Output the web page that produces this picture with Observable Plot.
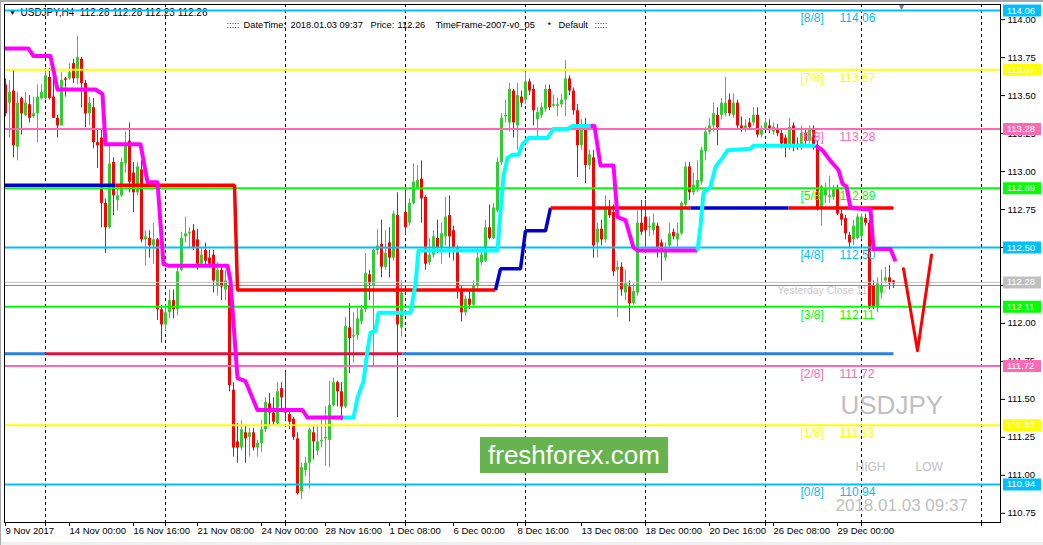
<!DOCTYPE html>
<html><head><meta charset="utf-8">
<script src="https://cdn.jsdelivr.net/npm/d3@7"></script>
<script src="https://cdn.jsdelivr.net/npm/@observablehq/plot@0.6"></script>
<style>
body{margin:0;background:#fff;}
#wrap{position:relative;width:1043px;height:545px;overflow:hidden;background:#fff;}
#wm{position:absolute;left:480px;top:437px;width:188px;height:36px;background:#66b34f;color:#fff;font:26px "Liberation Sans",Arial,sans-serif;display:flex;align-items:center;justify-content:center;}
#edge{position:absolute;left:0;top:0;width:1043px;height:545px;box-shadow:inset 1px 2px 0 #a8a8a8, inset 0 -3px 0 #f0f0f0;pointer-events:none;}
</style></head><body><div id="wrap"></div>
<script>
const symbolName = "USDJPY";
const timeframe = "H4";
const open = [
113.57,113.45,113.53,113.16,113.48,113.37,113.44,113.36,113.38,113.48,
113.48,113.62,113.49,113.35,113.30,113.61,113.61,113.71,113.61,113.74,
113.58,113.38,113.42,113.19,113.22,112.79,112.63,113.06,112.81,112.84,
113.05,113.20,112.99,112.86,113.01,112.55,112.56,112.51,112.55,112.09,
111.99,112.07,112.15,112.09,112.35,112.57,112.59,112.61,112.55,112.39,
112.48,112.43,112.45,112.25,112.35,112.22,112.25,111.56,111.22,111.18,
111.28,111.25,111.28,111.18,111.21,111.30,111.47,111.41,111.34,111.57,
111.44,111.40,111.37,111.24,110.89,111.03,111.08,111.28,111.16,111.22,
111.24,111.23,111.46,111.61,111.55,111.45,111.97,111.91,111.92,112.01,
112.09,112.32,112.25,112.48,112.52,112.37,112.53,112.43,112.71,111.97,
112.73,112.66,112.79,112.89,112.95,112.83,112.40,112.45,112.56,112.49,
112.57,112.71,112.61,112.50,112.22,112.07,112.16,112.12,112.25,112.40,
112.41,112.63,112.56,112.74,113.06,113.36,113.32,113.53,113.30,113.49,
113.47,113.59,113.54,113.34,113.37,113.41,113.54,113.43,113.43,113.44,
113.47,113.61,113.53,113.40,113.17,113.28,113.04,113.09,112.53,112.62,
112.55,112.76,112.73,112.35,112.37,112.20,112.24,112.13,112.20,112.66,
112.70,112.63,112.61,112.64,112.53,112.43,112.51,112.60,112.55,112.59,
112.78,113.03,112.86,112.88,112.93,113.13,113.26,113.30,113.37,113.37,
113.38,113.47,113.37,113.45,113.30,113.28,113.32,113.32,113.37,113.24,
113.28,113.30,113.26,113.28,113.25,113.22,113.17,113.30,113.18,113.16,
113.25,113.20,113.27,113.17,112.76,112.84,112.83,112.83,112.88,112.72,
112.69,112.58,112.55,112.56,112.57,112.69,112.66,112.25,112.11,112.20,
112.28,112.30,112.28];
const high = [
113.61,113.60,113.67,113.52,113.49,113.52,113.50,113.49,113.57,113.57,
113.68,113.68,113.62,113.37,113.65,113.62,113.71,113.74,113.89,113.75,
113.60,113.49,113.48,113.27,113.27,112.82,113.18,113.09,112.90,113.09,
113.26,113.32,113.06,113.06,113.07,112.61,112.61,112.66,112.56,112.12,
112.12,112.22,112.22,112.38,112.60,112.70,112.63,112.65,112.62,112.50,
112.53,112.48,112.48,112.40,112.38,112.35,112.30,111.61,111.34,111.36,
111.33,111.31,111.31,111.23,111.36,111.51,111.54,111.51,111.61,111.61,
111.68,111.43,111.38,111.28,111.08,111.12,111.31,111.32,111.32,111.38,
111.45,111.62,111.64,111.62,111.61,112.04,112.13,112.07,112.10,112.12,
112.46,112.35,112.50,112.62,112.68,112.61,112.63,112.74,112.86,112.28,
112.88,112.82,113.05,113.04,113.07,112.84,112.56,112.61,112.68,112.66,
112.83,112.84,112.64,112.51,112.25,112.18,112.22,112.28,112.48,112.49,
112.68,112.78,112.79,113.09,113.38,113.47,113.58,113.54,113.58,113.53,
113.67,113.61,113.57,113.42,113.45,113.57,113.57,113.50,113.48,113.51,
113.73,113.63,113.55,113.44,113.34,113.35,113.14,113.14,112.66,112.68,
112.84,112.81,112.78,112.41,112.40,112.35,112.28,112.26,112.74,112.81,
112.81,112.70,112.72,112.66,112.55,112.53,112.66,112.62,112.66,112.80,
113.06,113.06,112.99,113.07,113.16,113.29,113.35,113.45,113.42,113.48,
113.62,113.51,113.51,113.47,113.36,113.34,113.35,113.42,113.42,113.30,
113.35,113.34,113.32,113.31,113.27,113.24,113.35,113.32,113.22,113.30,
113.28,113.30,113.30,113.20,112.91,112.92,112.97,112.91,112.91,112.76,
112.71,112.60,112.68,112.72,112.72,112.72,112.68,112.28,112.30,112.35,
112.37,112.38,112.28];
const low = [
113.36,113.22,113.09,113.07,113.24,113.36,113.32,113.35,113.19,113.47,
113.47,113.47,113.35,113.22,113.30,113.49,113.60,113.58,113.57,113.42,
113.29,113.30,113.15,113.02,112.63,112.46,112.62,112.71,112.74,112.83,
112.99,112.86,112.73,112.84,112.53,112.38,112.43,112.39,112.02,111.87,
111.95,112.03,112.03,112.05,112.34,112.53,112.50,112.48,112.35,112.37,
112.38,112.37,112.20,112.18,112.15,112.15,111.55,111.12,111.08,111.16,
111.08,111.12,111.16,111.12,111.15,111.28,111.32,111.33,111.33,111.43,
111.36,111.30,111.23,110.87,110.84,110.99,110.91,111.10,111.13,111.18,
111.06,111.05,111.45,111.45,111.36,111.44,111.67,111.74,111.89,111.99,
112.07,112.15,111.72,112.45,112.30,112.35,112.30,112.41,111.38,111.91,
112.58,112.64,112.78,112.88,112.66,112.35,112.38,112.43,112.46,112.39,
112.51,112.43,112.41,112.16,112.01,112.05,112.09,112.10,112.22,112.38,
112.40,112.55,112.55,112.73,113.04,113.32,113.26,113.22,113.14,113.42,
113.44,113.50,113.30,113.22,113.35,113.39,113.40,113.42,113.36,113.42,
113.36,113.50,113.37,112.96,113.14,112.92,113.01,112.43,112.43,112.51,
112.53,112.69,112.31,112.04,112.18,112.15,112.01,112.12,112.18,112.58,
112.50,112.57,112.58,112.43,112.28,112.41,112.50,112.55,112.50,112.58,
112.76,112.81,112.84,112.86,112.91,113.07,113.24,113.26,113.17,113.34,
113.36,113.36,113.35,113.28,113.26,113.26,113.27,113.30,113.22,113.22,
113.27,113.25,113.24,113.23,113.15,113.09,113.14,113.13,113.14,113.14,
113.17,113.18,113.14,112.74,112.64,112.79,112.79,112.81,112.71,112.64,
112.55,112.49,112.51,112.55,112.55,112.64,112.09,112.09,112.07,112.16,
112.26,112.22,112.23];
const close = [
113.38,113.52,113.17,113.45,113.38,113.45,113.35,113.38,113.49,113.52,
113.63,113.48,113.35,113.30,113.60,113.60,113.65,113.61,113.75,113.58,
113.38,113.45,113.19,113.17,112.79,112.63,113.05,112.84,112.84,113.06,
113.18,112.93,112.86,113.03,112.55,112.57,112.51,112.55,112.09,111.99,
112.07,112.15,112.09,112.34,112.56,112.59,112.60,112.50,112.39,112.45,
112.41,112.39,112.28,112.35,112.24,112.28,111.59,111.18,111.18,111.30,
111.24,111.28,111.18,111.21,111.30,111.48,111.41,111.35,111.55,111.51,
111.41,111.35,111.25,110.88,111.05,111.08,111.30,111.22,111.22,111.23,
111.25,111.46,111.61,111.55,111.45,111.98,111.90,111.92,112.03,112.09,
112.33,112.26,112.48,112.51,112.37,112.46,112.43,112.72,111.99,112.20,
112.63,112.79,112.93,112.94,112.82,112.39,112.45,112.57,112.50,112.59,
112.70,112.57,112.50,112.22,112.07,112.16,112.12,112.25,112.43,112.45,
112.63,112.56,112.76,113.06,113.35,113.37,113.54,113.32,113.50,113.45,
113.59,113.53,113.40,113.39,113.42,113.54,113.42,113.44,113.44,113.47,
113.61,113.53,113.40,113.17,113.28,113.04,113.11,112.51,112.62,112.55,
112.76,112.71,112.34,112.37,112.22,112.26,112.13,112.21,112.66,112.60,
112.61,112.64,112.66,112.50,112.47,112.48,112.59,112.57,112.59,112.79,
113.03,112.86,112.91,112.94,113.14,113.26,113.30,113.38,113.29,113.45,
113.45,113.38,113.45,113.30,113.28,113.30,113.29,113.37,113.24,113.28,
113.32,113.27,113.29,113.25,113.18,113.16,113.29,113.16,113.17,113.25,
113.20,113.27,113.17,112.76,112.90,112.89,112.84,112.88,112.72,112.68,
112.59,112.53,112.64,112.70,112.70,112.66,112.11,112.11,112.26,112.25,
112.30,112.26,112.26];

const tickBars = [0,16,32,48,64,80,96,112,128,144,160,176,192,208];
const tickLabels = ["9 Nov 2017","14 Nov 00:00","16 Nov 16:00","21 Nov 08:00","24 Nov 00:00","28 Nov 16:00","1 Dec 08:00","6 Dec 00:00","8 Dec 16:00","13 Dec 08:00","18 Dec 00:00","20 Dec 16:00","26 Dec 08:00","29 Dec 00:00"];
const gridBars = [10,40,70,100,130,160,190,214,244];
const priceTicks = [114.00,113.75,113.50,113.25,113.00,112.75,112.50,112.25,112.00,111.75,111.50,111.25,111.00,110.75];
const priceMin = 110.6895, priceMax = 114.0995;
const barMin = -0.25, barMax = 248.75;

const murreyLevels = [114.06,113.67,113.28,112.89,112.50,112.11,111.72,111.33,110.94];
const murreyNames = ["[8/8]","[7/8]","[6/8]","[5/8]","[4/8]","[3/8]","[2/8]","[1/8]","[0/8]"];
const murreyColors = ["#00bfff","#ffff00","#ff69b4","#00ff00","#00bfff","#00ff00","#ff69b4","#ffff00","#00bfff"];

const bidPrice = 112.27, bidText = "112.28";
const yesterdayClose = 112.25, yesterdayText = "Yesterday Close 112.27";

// trailing bands (magenta / cyan segments)
const trailBars = [
 [-0.25,5.75,7,11.25,13,22.5,24.25,25,33.75,35.5,38,39.5,40.75,55.5,56.25,58,60,63,74.25,75.5,84.5],
 [84.5,87,88,89.5,90.5,91.25,92.5,93.25,101.25,102.5,103.25,123,123.75,124.5,125.5,126.75,128.25,129.25,130.75,135.5,137,140.5,141.75,146.25],
 [146.25,147.25,148.75,152,153,155,157,158,173],
 [173,173.75,174.5,176.25,177.5,179.25,180.5,186.25,187,202.5],
 [202.5,204.25,206.25,208.25,209.25,210.25,211.25,216.25,217,221.25,222.5]
];
const trailVals = [
 [113.81,113.81,113.76,113.76,113.54,113.54,113.51,113.18,113.18,112.93,112.93,112.39,112.38,112.38,112.28,111.64,111.62,111.43,111.43,111.38,111.38],
 [111.38,111.38,111.51,111.62,111.82,111.94,111.95,112.07,112.07,112.26,112.48,112.48,112.74,112.97,113.09,113.11,113.11,113.18,113.22,113.22,113.28,113.28,113.30,113.30],
 [113.30,113.30,113.04,113.04,112.70,112.68,112.50,112.48,112.48],
 [112.48,112.64,112.86,112.90,113.03,113.09,113.14,113.15,113.17,113.17],
 [113.17,113.14,113.07,113.01,112.92,112.90,112.76,112.75,112.49,112.49,112.41]
];
const trailColors = ["#ff00ff","#00ffff","#ff00ff","#00ffff","#ff00ff"];

// stepped levels
const levelBars = [[-0.25,27.5],[27.5,57.25,58,122.5],[122.5,123.75,128.75,130,135,136.25],[136.25,171.25],[171.25,195.75],[195.75,222]];
const levelVals = [[112.91,112.91],[112.91,112.91,112.22,112.22],[112.22,112.36,112.36,112.61,112.61,112.76],[112.76,112.76],[112.76,112.76],[112.76,112.76]];
const levelColors = ["#0000cd","#ff0000","#0000cd","#ff0000","#0000cd","#ff0000"];
const supportBars = [[-0.25,10],[10,99.25],[99.25,222]];
const supportVal = 111.80;
const supportColors = ["#2a80e0","#dc143c","#2a80e0"];

// drawn V
const vBars = [224.5,228,231.5];
const vVals = [112.36,111.82,112.45];

const UP = "#32cd32", DOWN = "#ff0000";
const candles = open.map((o,i)=>({i, open:o, high:high[i], low:low[i], close:close[i], c: close[i]>=o?UP:DOWN}));
const murrey = murreyLevels.map((v,k)=>({v, name:murreyNames[k], color:murreyColors[k]}));
const segRows = (bars, vals, colors) => bars.flatMap((b,s)=>b.map((x,j)=>({s, x, v: Array.isArray(vals)? vals[s][j] : vals, color: colors[s]})));
const trailRows = segRows(trailBars, trailVals, trailColors);
const levelRows = segRows(levelBars, levelVals, levelColors);
const supportRows = segRows(supportBars, supportVal, supportColors);
const vRows = vBars.map((x,k)=>({x, v:vVals[k]}));
const axisLabels = [...murrey.map(d=>({v:d.v, text:d.v.toFixed(2), color:d.color})), {v:bidPrice, text:bidText, color:"#c0c0c0"}];
const last = candles[candles.length-1];
const labelMap = new Map(tickBars.map((b,k)=>[b,tickLabels[k]]));

const F = '"Liberation Sans", Arial, sans-serif';
const TL = (text, dx, dy, extra={}) => Plot.text([text], {frameAnchor:"top-left", text:d=>d, dx, dy, textAnchor:"start", lineAnchor:"middle", fontFamily:F, ...extra});

const header2 = [[":::::",222],["DateTime:",239],["2018.01.03 09:37",286],["Price:",366],[last.close.toFixed(2),393],["TimeFrame-2007-v0_05",431],["*",543],["Default",554],[":::::",590]];

const chart = Plot.plot({
  width:1043, height:545,
  marginLeft:4, marginRight:43, marginTop:4, marginBottom:23,
  x:{domain:[barMin,barMax], axis:null},
  y:{domain:[priceMin,priceMax], axis:null},
  color:{type:"identity"},
  style:{fontFamily:F, fontSize:"9.5px", background:"#fff"},
  marks:[
    Plot.ruleX(gridBars, {x:d=>d, stroke:"#000", strokeWidth:1, strokeDasharray:"3,3"}),
    TL("▼", 4, 8, {fontSize:8, fill:"#000"}),
    TL(`${symbolName},${timeframe}  ${last.open.toFixed(2)} ${last.high.toFixed(2)} ${last.low.toFixed(2)} ${last.close.toFixed(2)}`, 16, 8, {fontSize:10, fill:"#000"}),
    ...header2.map(([t,x])=>TL(t, x, 21, {fontSize:9.3, fill: t===":::::" ? "#600060" : "#000"})),
    TL(yesterdayText, 773, 286, {fontSize:10.5, fill:"#c8c8c8"}),
    TL(symbolName, 836, 401, {fontSize:26, fill:"#c0c0c0"}),
    TL("HIGH", 851, 463, {fontSize:12, fill:"#c0c0c0"}),
    TL("LOW", 911, 463, {fontSize:12, fill:"#c0c0c0"}),
    TL("2018.01.03 09:37", 831, 501, {fontSize:17, fill:"#c0c0c0"}),
    TL("▼", 892, 2, {fontSize:10, fill:"#808080"}),
    Plot.ruleX(candles, {x:"i", y1:"low", y2:"high", stroke:"c", strokeWidth:1}),
    Plot.ruleX(candles, {x:"i", y1:"open", y2:"close", stroke:"c", strokeWidth:3}),
    Plot.ruleY([bidPrice], {y:d=>d, stroke:"#c0c0c0", strokeWidth:1}),
    Plot.ruleY([yesterdayClose], {y:d=>d, stroke:"#8c8c8c", strokeWidth:1}),
    Plot.ruleY(murrey, {y:"v", stroke:"color", strokeWidth:2}),
    Plot.text(murrey, {x:198.75, y:"v", text:"name", fill:"color", dy:8, textAnchor:"start", fontSize:12, fontFamily:F}),
    Plot.text(murrey, {x:208.5, y:"v", text:d=>d.v.toFixed(2), fill:"color", dy:8, textAnchor:"start", fontSize:12, fontFamily:F}),
    Plot.line(supportRows, {x:"x", y:"v", z:"s", stroke:"color", strokeWidth:3, strokeLinecap:"butt"}),
    Plot.line(levelRows, {x:"x", y:"v", z:"s", stroke:"color", strokeWidth:3.5, strokeLinecap:"butt", strokeLinejoin:"miter"}),
    Plot.line(trailRows, {x:"x", y:"v", z:"s", stroke:"color", strokeWidth:4, strokeLinecap:"butt"}),
    Plot.line(vRows, {x:"x", y:"v", stroke:"#ff0000", strokeWidth:3}),
    Plot.frame({stroke:"#000"}),
    Plot.axisX(tickBars, {anchor:"bottom", tickSize:4, tickPadding:1, tickFormat:d=>labelMap.get(d), textAnchor:"start", dx:0, fontSize:9.5}),
    Plot.axisX(gridBars, {anchor:"bottom", tickSize:4, tickFormat:()=>""}),
    Plot.axisY(priceTicks, {anchor:"right", tickSize:4, tickPadding:3, tickFormat:d=>d.toFixed(2), fontSize:9.5}),
    Plot.ruleY(axisLabels, {y:"v", x1:249.5, x2:259, stroke:"color", strokeWidth:12}),
    Plot.text(axisLabels, {y:"v", x:250.3, text:"text", fill:"#fff", textAnchor:"start", fontSize:9.5, fontFamily:F})
  ]
});
const wrap = document.getElementById("wrap");
wrap.appendChild(chart);
const wm = document.createElement("div");
wm.id = "wm"; wm.textContent = "freshforex.com";
wrap.appendChild(wm);
const edge = document.createElement("div");
edge.id = "edge";
wrap.appendChild(edge);
</script></body></html>
